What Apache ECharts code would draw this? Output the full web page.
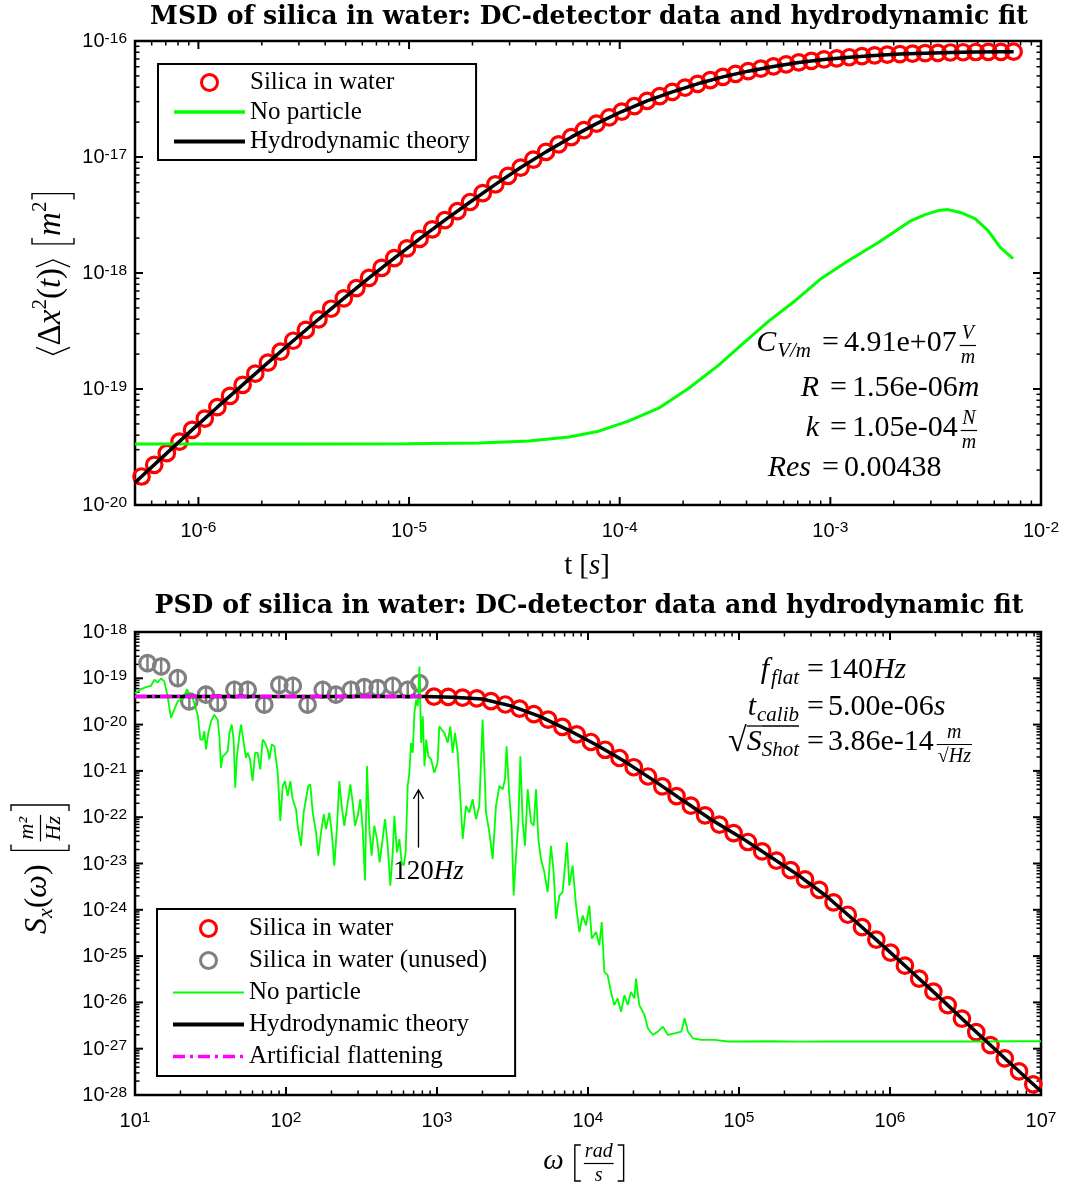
<!DOCTYPE html>
<html>
<head>
<meta charset="utf-8">
<title>MSD and PSD of silica in water</title>
<script src="https://cdn.jsdelivr.net/npm/echarts@6/dist/echarts.min.js"></script>
<style>
  html, body { margin: 0; padding: 0; background: #ffffff; }
  #chart { width: 1067px; height: 1184px; }
</style>
</head>
<body>
<div id="chart"></div>
<script>
// ---------------- MSD panel: time lags [s] and mean squared displacement [m^2]
const msdTime = [5.37e-7, 6.17e-7, 7.08e-7, 8.13e-7, 9.33e-7, 1.072e-6, 1.230e-6, 1.413e-6, 1.622e-6, 1.862e-6,
  2.138e-6, 2.455e-6, 2.818e-6, 3.236e-6, 3.715e-6, 4.266e-6, 4.898e-6, 5.623e-6, 6.457e-6, 7.413e-6,
  8.511e-6, 9.772e-6, 1.122e-5, 1.288e-5, 1.479e-5, 1.698e-5, 1.950e-5, 2.239e-5, 2.570e-5, 2.951e-5,
  3.388e-5, 3.890e-5, 4.467e-5, 5.129e-5, 5.888e-5, 6.761e-5, 7.762e-5, 8.913e-5, 1.023e-4, 1.175e-4,
  1.349e-4, 1.549e-4, 1.778e-4, 2.042e-4, 2.344e-4, 2.692e-4, 3.090e-4, 3.548e-4, 4.074e-4, 4.677e-4,
  5.370e-4, 6.166e-4, 7.079e-4, 8.128e-4, 9.333e-4, 1.072e-3, 1.230e-3, 1.413e-3, 1.622e-3, 1.862e-3,
  2.138e-3, 2.455e-3, 2.818e-3, 3.236e-3, 3.715e-3, 4.266e-3, 4.898e-3, 5.623e-3, 6.457e-3, 7.413e-3];
const msdSilica = [1.76e-20, 2.22e-20, 2.80e-20, 3.52e-20, 4.44e-20, 5.56e-20, 6.97e-20, 8.71e-20, 1.086e-19, 1.355e-19,
  1.687e-19, 2.099e-19, 2.606e-19, 3.228e-19, 3.990e-19, 4.920e-19, 6.053e-19, 7.413e-19, 9.078e-19, 1.107e-18,
  1.343e-18, 1.629e-18, 1.968e-18, 2.377e-18, 2.858e-18, 3.420e-18, 4.093e-18, 4.887e-18, 5.808e-18, 6.871e-18,
  8.110e-18, 9.506e-18, 1.107e-17, 1.285e-17, 1.483e-17, 1.702e-17, 1.941e-17, 2.198e-17, 2.466e-17, 2.748e-17,
  3.041e-17, 3.342e-17, 3.648e-17, 3.963e-17, 4.276e-17, 4.592e-17, 4.909e-17, 5.212e-17, 5.495e-17, 5.781e-17,
  6.039e-17, 6.295e-17, 6.531e-17, 6.745e-17, 6.934e-17, 7.096e-17, 7.244e-17, 7.396e-17, 7.516e-17, 7.621e-17,
  7.709e-17, 7.798e-17, 7.852e-17, 7.907e-17, 7.962e-17, 7.998e-17, 8.035e-17, 8.054e-17, 8.072e-17, 8.091e-17];
const fitTime = [5.0e-7, 5.37e-7, 7.08e-7, 9.33e-7, 1.230e-6, 1.622e-6, 2.138e-6, 2.818e-6, 3.715e-6, 4.898e-6,
  6.457e-6, 8.511e-6, 1.122e-5, 1.479e-5, 1.950e-5, 2.570e-5, 3.388e-5, 4.467e-5, 5.888e-5, 7.762e-5,
  1.023e-4, 1.349e-4, 1.778e-4, 2.344e-4, 3.090e-4, 4.074e-4, 5.370e-4, 7.079e-4, 9.333e-4, 1.230e-3,
  1.622e-3, 2.138e-3, 2.818e-3, 3.715e-3, 4.898e-3, 6.457e-3, 7.413e-3];
const fitMsd = [1.56e-20, 1.76e-20, 2.80e-20, 4.44e-20, 6.97e-20, 1.086e-19, 1.687e-19, 2.606e-19, 3.990e-19, 6.053e-19,
  9.078e-19, 1.343e-18, 1.968e-18, 2.858e-18, 4.093e-18, 5.808e-18, 8.110e-18, 1.107e-17, 1.483e-17, 1.941e-17,
  2.466e-17, 3.041e-17, 3.648e-17, 4.276e-17, 4.909e-17, 5.495e-17, 6.039e-17, 6.531e-17, 6.934e-17, 7.244e-17,
  7.516e-17, 7.709e-17, 7.852e-17, 7.962e-17, 8.035e-17, 8.072e-17, 8.091e-17];
const noParticleTime = [5.0e-7, 3.01e-6, 9.79e-6, 2.15e-5, 3.71e-5, 5.73e-5, 7.95e-5, 1.10e-4, 1.53e-4, 2.12e-4,
  2.94e-4, 3.87e-4, 5.08e-4, 6.83e-4, 9.06e-4, 1.18e-3, 1.69e-3, 2.42e-3, 2.82e-3, 3.25e-3,
  3.62e-3, 4.18e-3, 4.86e-3, 5.61e-3, 6.40e-3, 7.37e-3];
const noParticleMsd = [3.35e-20, 3.35e-20, 3.37e-20, 3.42e-20, 3.56e-20, 3.85e-20, 4.33e-20, 5.28e-20, 6.83e-20, 1.01e-19,
  1.60e-19, 2.48e-19, 3.83e-19, 5.80e-19, 8.97e-19, 1.23e-18, 1.83e-18, 2.83e-18, 3.19e-18, 3.45e-18,
  3.52e-18, 3.31e-18, 2.94e-18, 2.32e-18, 1.66e-18, 1.33e-18];

// ---------------- PSD panel: angular frequency [rad/s] and PSD [m^2/Hz]
const psdOmega = [955, 1187, 1476, 1834, 2280, 2835, 3524, 4381, 5445, 6769,
  8414, 10459, 13002, 16162, 20091, 24973, 31046, 38594, 47973, 59634,
  74131, 92148, 1.146e5, 1.424e5, 1.770e5, 2.200e5, 2.735e5, 3.400e5, 4.227e5, 5.254e5,
  6.531e5, 8.120e5, 1.009e6, 1.255e6, 1.560e6, 1.939e6, 2.410e6, 2.996e6, 3.724e6, 4.629e6,
  5.754e6, 7.153e6, 8.892e6];
const psdSilica = [4.018e-20, 3.954e-20, 3.819e-20, 3.673e-20, 3.214e-20, 2.716e-20, 2.208e-20, 1.683e-20, 1.282e-20, 8.89e-21,
  6.15e-21, 4.21e-21, 2.86e-21, 1.90e-21, 1.20e-21, 7.57e-22, 4.65e-22, 2.86e-22, 1.77e-22, 1.09e-22,
  6.93e-23, 4.55e-23, 2.91e-23, 1.83e-23, 1.15e-23, 7.19e-24, 4.52e-24, 2.69e-24, 1.45e-24, 7.82e-25,
  4.21e-25, 2.26e-25, 1.19e-25, 6.22e-26, 3.27e-26, 1.71e-26, 8.75e-27, 4.48e-27, 2.29e-27, 1.19e-27,
  6.21e-28, 3.25e-28, 1.70e-28];
const unusedOmega = [12.1, 14.9, 19.2, 22.9, 29.5, 35.3, 45.5, 55.8, 71.8, 90.3,
  111, 139, 175, 214, 269, 330, 405, 509, 640, 764];
const unusedPsd = [2.12e-19, 1.80e-19, 1.01e-19, 3.17e-20, 4.42e-20, 2.93e-20, 5.66e-20, 5.66e-20, 2.69e-20, 7.24e-20,
  6.90e-20, 2.69e-20, 5.66e-20, 4.42e-20, 5.66e-20, 6.47e-20, 6.15e-20, 6.90e-20, 5.66e-20, 7.88e-20];
const psdFitOmega = [10, 100, 500, 832, 1288, 1995, 3090, 4786, 7413, 11480,
  17780, 27540, 42660, 66070, 1.023e5, 1.585e5, 2.455e5, 3.802e5, 5.888e5, 9.120e5,
  1.413e6, 2.188e6, 3.388e6, 5.248e6, 8.128e6, 1.0e7];
const psdFitValue = [4.07e-20, 4.07e-20, 4.06e-20, 4.055e-20, 3.917e-20, 3.565e-20, 2.541e-20, 1.510e-20, 7.621e-21, 3.573e-21,
  1.549e-21, 6.081e-22, 2.286e-22, 8.730e-23, 3.707e-23, 1.452e-23, 5.689e-24, 1.963e-24, 5.662e-25, 1.600e-25,
  4.375e-26, 1.178e-26, 3.062e-27, 8.166e-28, 2.223e-28, 1.202e-28];
const flattenOmega = [10, 845];
const flattenValue = [4.07e-20, 4.07e-20];
const noParticlePsd = [
  [10, 4.70e-20], [10.96, 5.85e-20], [11.83, 6.46e-20], [12.76, 6.90e-20], [13.43, 9.29e-20], [14.13, 8.13e-20],
  [14.86, 9.91e-20], [15.63, 8.55e-20], [16.44, 4.06e-20], [17.30, 1.39e-20], [18.20, 2.10e-20], [19.17, 3.18e-20],
  [20.17, 3.45e-20], [21.22, 4.06e-20], [22.09, 5.85e-20], [22.9, 4.42e-20], [24.1, 3.74e-20], [25.4, 2.10e-20],
  [26.0, 1.64e-20], [27.1, 4.75e-21], [28.1, 4.75e-21], [28.8, 7.19e-21], [29.5, 2.90e-21], [30.6, 6.62e-21],
  [31.9, 1.18e-20], [33.5, 1.64e-20], [35.3, 1.28e-20], [36.2, 5.61e-21], [37.1, 1.17e-21], [38.1, 2.08e-21],
  [39.4, 2.26e-21], [41.1, 2.67e-21], [42.2, 6.62e-21], [43.7, 1.00e-20], [45.0, 4.75e-21], [46.1, 4.35e-22],
  [47.3, 2.08e-21], [49.1, 5.61e-21], [50.4, 1.00e-20], [52.5, 4.04e-21], [54.3, 1.92e-21], [55.7, 2.46e-21],
  [57.8, 1.77e-21], [60.1, 6.04e-22], [62.4, 2.46e-21], [64.9, 2.46e-21], [67.6, 1.08e-21], [70.0, 4.75e-21],
  [72.6, 4.04e-21], [75.6, 2.90e-21], [77.6, 1.77e-21], [80.4, 3.72e-21], [83.8, 3.42e-21], [88.1, 9.14e-22],
  [91.7, 8.34e-23], [95.1, 4.72e-22], [98.5, 6.04e-22], [102.6, 2.88e-22], [106.9, 6.04e-22], [110.7, 2.44e-22],
  [116.5, 1.49e-22], [119.5, 6.52e-23], [125.7, 2.42e-23], [130.9, 1.26e-22], [135.6, 2.44e-22], [140.5, 4.72e-22],
  [144.9, 5.13e-22], [150.3, 1.26e-22], [158.1, 4.68e-23], [163.7, 1.47e-23], [170.6, 4.68e-23], [177.8, 1.16e-22],
  [184.1, 5.52e-23], [193.6, 1.26e-22], [200.9, 4.68e-23], [209.0, 8.97e-24], [217.8, 6.52e-23], [225.5, 6.04e-22],
  [233.8, 1.75e-22], [243.4, 6.52e-23], [256.2, 2.07e-22], [266.8, 5.13e-22], [276.6, 2.07e-22], [286.6, 6.52e-23],
  [298.5, 1.07e-22], [310.7, 2.44e-22], [322.0, 5.52e-23], [333.5, 4.28e-24], [343.8, 1.27e-21], [356.4, 5.52e-23],
  [369.1, 1.47e-23], [384.6, 6.52e-23], [400.8, 3.37e-23], [417.3, 1.06e-23], [436.5, 3.37e-23], [452.6, 9.06e-23],
  [471.4, 2.42e-23], [490.8, 3.33e-24], [509.1, 1.74e-23], [522.2, 1.07e-22], [543.3, 1.74e-23], [563.5, 3.37e-23],
  [583.8, 1.06e-23], [601.6, 8.97e-24], [620.1, 1.74e-23], [639.5, 4.72e-22], [656.1, 9.14e-22], [673.2, 4.04e-21],
  [690.6, 2.46e-21], [708.5, 1.78e-20], [726.8, 3.45e-20], [745.7, 2.48e-20], [765.1, 1.80e-19], [784.9, 4.04e-21],
  [805.2, 1.51e-20], [826.1, 1.27e-21], [847.5, 4.75e-21], [876.4, 2.08e-21], [913.6, 1.77e-21], [960.1, 9.14e-22],
  [1009, 1.50e-21], [1036, 9.2e-21], [1073, 7.8e-21], [1119, 6.62e-21], [1177, 4.04e-21], [1225, 9.2e-21],
  [1270, 2.46e-21], [1316, 6.62e-21], [1371, 2.46e-21], [1429, 2.44e-22], [1480, 3.37e-23], [1556, 1.75e-22],
  [1637, 1.26e-22], [1722, 2.44e-22], [1812, 9.06e-23], [1906, 1.75e-22], [2005, 1.28e-20], [2112, 1.26e-22],
  [2221, 4.68e-23], [2337, 1.25e-23], [2458, 1.75e-22], [2587, 4.72e-22], [2723, 4.0e-22], [2818, 6.56e-22],
  [2891, 3.42e-21], [3013, 2.88e-22], [3119, 6.52e-23], [3219, 2.03e-24], [3337, 1.47e-23], [3456, 7.67e-23],
  [3565, 2.08e-21], [3694, 7.67e-23], [3827, 2.42e-23], [3985, 4.0e-22], [4196, 7.67e-23], [4369, 6.52e-23],
  [4526, 4.0e-22], [4689, 3.37e-23], [4883, 1.25e-23], [5137, 6.46e-24], [5404, 2.40e-24], [5685, 2.42e-23],
  [5926, 6.46e-24], [6141, 6.40e-25], [6460, 2.03e-24], [6796, 2.40e-24], [7261, 2.85e-23], [7521, 3.33e-24],
  [7912, 8.97e-24], [8333, 1.24e-24], [8770, 3.31e-25], [9226, 7.55e-25], [9706, 4.60e-25], [10210, 1.24e-24],
  [10590, 2.38e-25], [11300, 3.31e-25], [11890, 1.71e-25], [12330, 5.43e-25], [12830, 4.56e-26], [13490, 3.87e-26],
  [14190, 1.69e-26], [14930, 8.77e-27], [15710, 1.22e-26], [16560, 6.30e-27], [17420, 1.44e-26], [18320, 8.77e-27],
  [19280, 1.69e-26], [20280, 1.22e-26], [20800, 3.28e-26], [21880, 8.77e-27], [23660, 5.35e-27], [24890, 2.76e-27],
  [26920, 1.98e-27], [29040, 2.34e-27], [31330, 3.00e-27], [33810, 1.98e-27], [37500, 2.15e-27], [41500, 2.34e-27],
  [43650, 4.53e-27], [45920, 2.34e-27], [49550, 1.68e-27], [56360, 1.55e-27], [69020, 1.55e-27], [84540, 1.43e-27],
  [103500, 1.43e-27], [1.6e5, 1.45e-27], [2.5e5, 1.42e-27], [4.0e5, 1.44e-27], [6.3e5, 1.43e-27], [1.0e6, 1.44e-27],
  [1.6e6, 1.43e-27], [2.5e6, 1.44e-27], [4.0e6, 1.43e-27], [6.3e6, 1.45e-27], [1.0e7, 1.45e-27]
];

// axis ranges (decade exponents of the major ticks)
const msdTimeRange = [5e-7, 1e-2], msdTimeDecades = [-6, -2];
const msdRange = [1e-20, 1e-16], msdDecades = [-20, -16];
const omegaRange = [1e1, 1e7], omegaDecades = [1, 7];
const psdRange = [1e-28, 1e-18], psdDecades = [-28, -18];

// 120 Hz mains line, expressed as angular frequency
const mainsOmega = 2 * Math.PI * 120;

// ---------------- helpers
const SERIF = "'Liberation Serif', 'Times New Roman', serif";
const TITLE_SERIF = "'DejaVu Serif', serif";
const SANS = "'Liberation Sans', Arial, sans-serif";
const zip = (a, b) => a.map((v, i) => [v, b[i]]);

function decades(lo, hi) { const out = []; for (let e = lo; e <= hi; e++) out.push(Number('1e' + e)); return out; }
function subDecades(lo, hi, range) {
  const out = [];
  for (let e = lo; e <= hi; e++) for (let k = 2; k <= 9; k++) {
    const v = Number(k + 'e' + e);
    if (v > range[0] && v < range[1]) out.push(v);
  }
  return out;
}
function powerLabel(v) { return '{b|10}{e|' + Math.round(Math.log10(v)) + '}'; }
const labelRich = {
  b: { fontFamily: SANS, fontSize: 20, lineHeight: 21, verticalAlign: 'bottom', color: '#000' },
  e: { fontFamily: SANS, fontSize: 15.5, lineHeight: 15, verticalAlign: 'top', padding: [0, 0, 8, 0], color: '#000' }
};

// label-only log axes; the frame comes from the grid border, ticks are drawn afterwards
function labelAxis(dim, gridIndex, range, dec) {
  return {
    type: 'log', logBase: 10, gridIndex, position: dim === 'x' ? 'bottom' : 'left', min: range[0], max: range[1], silent: true,
    axisLine: { show: false, onZero: false }, axisTick: { show: false },
    splitLine: { show: false }, minorTick: { show: false }, minorSplitLine: { show: false },
    axisLabel: { show: true, customValues: decades(dec[0], dec[1]), formatter: powerLabel, rich: labelRich,
      margin: dim === 'x' ? 15 : 8, color: '#000' }
  };
}

// ---------------- text layout for the formula labels
const measureCtx = document.createElement('canvas').getContext('2d');
function fontOf(size, italic, bold, family) {
  return (italic ? 'italic ' : '') + (bold ? 'bold ' : '') + size + 'px ' + (family || SERIF);
}
function textWidth(str, f) { measureCtx.font = f; return measureCtx.measureText(str).width; }
function textEl(x, y, str, f, align) {
  return { type: 'text', x, y, silent: true,
    style: { text: str, font: f, fill: '#000', align: align || 'left', verticalAlign: 'middle', textAlign: align || 'left', textVerticalAlign: 'middle' } };
}
function segEl(x1, y1, x2, y2, w) {
  return { type: 'line', silent: true, shape: { x1, y1, x2, y2 }, style: { stroke: '#000', lineWidth: w || 1.2 } };
}
function polyEl(points, w) {
  return { type: 'polyline', silent: true, shape: { points }, style: { stroke: '#000', fill: null, lineWidth: w || 1.3 } };
}
function formula(pieces) {
  let x = 0, anchor = 0;
  const kids = [];
  pieces.forEach(p => {
    if (p.anchor) { anchor = x; return; }
    if (p.gap) { x += p.gap; return; }
    if (p.br) {
      const h = p.h, open = p.br === '[';
      const xe = open ? x + 3 : x + 8;
      const d = open ? 6 : -6;
      kids.push(polyEl([[xe + d, -h + 2], [xe, -h + 2], [xe, h + 2], [xe + d, h + 2]], 1.4));
      x += 11; return;
    }
    if (p.ang) {
      const h = p.h, open = p.ang === '<';
      kids.push(polyEl(open ? [[x + 8, -h + 2], [x + 1, 2], [x + 8, h + 2]] : [[x + 1, -h + 2], [x + 8, 2], [x + 1, h + 2]], 1.3));
      x += 10; return;
    }
    const f = fontOf(p.size, p.it);
    if (p.frac) {
      const w = Math.max(textWidth(p.frac[0], f), textWidth(p.frac[1], f)) + 4;
      const bar = 2.5;
      kids.push(textEl(x + w / 2, bar - p.size * 0.6, p.frac[0], f, 'center'));
      kids.push(segEl(x + 1, bar, x + w - 1, bar, 1.2));
      kids.push(textEl(x + w / 2, bar + p.size * 0.62, p.frac[1], f, 'center'));
      x += w + 1; return;
    }
    const w = textWidth(p.t, f);
    kids.push(textEl(x, p.dy || 0, p.t, f));
    if (p.over !== undefined) kids.push(segEl(x, p.over, x + w, p.over, 1.3));
    x += w + (p.kern || 0);
  });
  return { kids, width: x, anchor };
}
function centered(f, cx, cy, rotation) {
  return { type: 'group', x: cx, y: cy, rotation: rotation || 0, silent: true,
    children: [{ type: 'group', x: -f.width / 2, y: 0, children: f.kids }] };
}
function atEquals(f, eqX, cy) {
  return { type: 'group', x: eqX - f.anchor, y: cy, silent: true, children: f.kids };
}

// ---------------- chart
const chart = echarts.init(document.getElementById('chart'), null, { renderer: 'canvas', width: 1067, height: 1184 });

const gridBoxes = [
  { left: 135, top: 41, width: 906, height: 464 },
  { left: 135, top: 632, width: 906, height: 463 }
];
const legendText = { fontFamily: SERIF, fontSize: 25, color: '#000', lineHeight: 24 };
const lineLegend = (name, lineStyle) => ({ name, itemStyle: { color: 'rgba(0,0,0,0)', borderWidth: 0, opacity: 0 },
  lineStyle: Object.assign({ opacity: 1 }, lineStyle) });
const circleStyle = color => ({ color: 'rgba(255,255,255,0)', borderColor: color, borderWidth: 3.2, opacity: 1 });
const gridFrame = { show: true, borderColor: '#000', borderWidth: 2.5, backgroundColor: 'rgba(0,0,0,0)', containLabel: false, outerBoundsMode: 'none' };
const flattenDash = [12, 5, 3, 5];

const option = {
  animation: false,
  backgroundColor: '#ffffff',
  textStyle: { fontFamily: SERIF },
  grid: gridBoxes.map(b => Object.assign({}, b, gridFrame)),
  xAxis: [labelAxis('x', 0, msdTimeRange, msdTimeDecades), labelAxis('x', 1, omegaRange, omegaDecades)],
  yAxis: [labelAxis('y', 0, msdRange, msdDecades), labelAxis('y', 1, psdRange, psdDecades)],
  legend: [
    {
      left: 158, top: 64, orient: 'vertical', selectedMode: false, z: 20,
      data: [
        { name: 'Silica in water' },
        lineLegend('No particle', { color: '#00ff00', width: 3.5 }),
        lineLegend('Hydrodynamic theory', { color: '#000', width: 4 })
      ],
      itemWidth: 71, itemHeight: 16, itemGap: 4.5, padding: [6, 6, 6, 14],
      borderColor: '#000', borderWidth: 2, borderRadius: 0, backgroundColor: '#fff',
      itemStyle: { borderWidth: 3 }, textStyle: legendText
    },
    {
      left: 157, top: 909, orient: 'vertical', selectedMode: false, z: 20,
      data: [
        { name: 'Silica in water' },
        { name: 'Silica in water (unused)' },
        lineLegend('No particle', { color: '#00ff00', width: 2 }),
        lineLegend('Hydrodynamic theory', { color: '#000', width: 4 }),
        lineLegend('Artificial flattening', { color: '#ff00ff', width: 3.5, type: flattenDash })
      ],
      itemWidth: 71, itemHeight: 16, itemGap: 7, padding: [7, 28, 7, 14],
      borderColor: '#000', borderWidth: 2, borderRadius: 0, backgroundColor: '#fff',
      itemStyle: { borderWidth: 3 }, textStyle: legendText
    }
  ],
  series: [
    // MSD panel
    { name: 'Silica in water', type: 'scatter', xAxisIndex: 0, yAxisIndex: 0, data: zip(msdTime, msdSilica),
      symbol: 'circle', symbolSize: 15.5, silent: true, itemStyle: circleStyle('#ff0000') },
    { name: 'No particle', type: 'line', xAxisIndex: 0, yAxisIndex: 0, data: zip(noParticleTime, noParticleMsd),
      symbol: 'none', silent: true, lineStyle: { color: '#00ff00', width: 3 }, itemStyle: { color: '#00ff00' } },
    { name: 'Hydrodynamic theory', type: 'line', xAxisIndex: 0, yAxisIndex: 0, data: zip(fitTime, fitMsd),
      symbol: 'none', silent: true, lineStyle: { color: '#000', width: 3.5 }, itemStyle: { color: '#000' } },

    // PSD panel
    { name: 'Silica in water (unused)', type: 'scatter', xAxisIndex: 1, yAxisIndex: 1, data: zip(unusedOmega, unusedPsd),
      symbol: 'circle', symbolSize: 15.5, silent: true, itemStyle: circleStyle('#808080') },
    { type: 'custom', xAxisIndex: 1, yAxisIndex: 1, data: zip(unusedOmega, unusedPsd), silent: true,
      encode: { x: 0, y: 1 },
      renderItem: (params, api) => {
        const p = api.coord([api.value(0), api.value(1)]);
        return { type: 'line', shape: { x1: p[0], y1: p[1] - 9, x2: p[0], y2: p[1] + 9 }, style: { stroke: '#808080', lineWidth: 2.5 } };
      } },
    { name: 'Silica in water', type: 'scatter', xAxisIndex: 1, yAxisIndex: 1, data: zip(psdOmega, psdSilica),
      symbol: 'circle', symbolSize: 15.5, silent: true, itemStyle: circleStyle('#ff0000') },
    { name: 'No particle', type: 'line', xAxisIndex: 1, yAxisIndex: 1, data: noParticlePsd,
      symbol: 'none', silent: true, lineStyle: { color: '#00ff00', width: 1.8 }, itemStyle: { color: '#00ff00' } },
    { name: 'Hydrodynamic theory', type: 'line', xAxisIndex: 1, yAxisIndex: 1, data: zip(psdFitOmega, psdFitValue),
      symbol: 'none', silent: true, lineStyle: { color: '#000', width: 3.5 }, itemStyle: { color: '#000' } },
    { name: 'Artificial flattening', type: 'line', xAxisIndex: 1, yAxisIndex: 1, data: zip(flattenOmega, flattenValue),
      symbol: 'none', silent: true, lineStyle: { color: '#ff00ff', width: 3.5, type: flattenDash }, itemStyle: { color: '#ff00ff' } }
  ]
};
chart.setOption(option);

// ---------------- inward tick marks on all four sides, placed through the axis scales
function tickMarks(axisIndex, box, xRange, xDec, yRange, yDec) {
  const els = [];
  const bottom = box.top + box.height, right = box.left + box.width;
  const put = (values, major, isX) => values.forEach(v => {
    const len = major ? 8 : 4.5, w = major ? 2 : 1.5;
    const p = chart.convertToPixel(isX ? { xAxisIndex: axisIndex } : { yAxisIndex: axisIndex }, v);
    if (isX) {
      els.push(segEl(p, bottom, p, bottom - len, w), segEl(p, box.top, p, box.top + len, w));
    } else {
      els.push(segEl(box.left, p, box.left + len, p, w), segEl(right, p, right - len, p, w));
    }
  });
  put(decades(xDec[0], xDec[1]), true, true);
  put(subDecades(xDec[0] - 1, xDec[1], xRange), false, true);
  put(decades(yDec[0], yDec[1]), true, false);
  put(subDecades(yDec[0] - 1, yDec[1], yRange), false, false);
  return { type: 'group', z: 10, silent: true, children: els };
}

// ---------------- titles, axis names and fit annotations
const titleTop = 'MSD of silica in water: DC-detector data and hydrodynamic fit';
const titleBottom = 'PSD of silica in water: DC-detector data and hydrodynamic fit';
const titleSize = 24 * 878 / textWidth(titleTop, fontOf(24, false, true, TITLE_SERIF));
const titleFont = fontOf(titleSize.toFixed(2), false, true, TITLE_SERIF);
const M = 30;   // annotation font size
const S = 21;   // subscript size
const F = 20;   // fraction size

const elements = [
  tickMarks(0, gridBoxes[0], msdTimeRange, msdTimeDecades, msdRange, msdDecades),
  tickMarks(1, gridBoxes[1], omegaRange, omegaDecades, psdRange, psdDecades),

  textEl(589, 17, titleTop, titleFont, 'center'),
  textEl(589, 606, titleBottom, titleFont, 'center'),

  centered(formula([{ t: 't', size: 29 }, { gap: 7 }, { t: '[', size: 29 }, { t: 's', size: 29, it: true }, { t: ']', size: 29 }]), 587, 566),
  centered(formula([
    { ang: '<', h: 17 }, { t: 'Δ', size: 33 }, { t: 'x', size: 33, it: true }, { t: '2', size: 21, dy: -11 },
    { t: '(', size: 33 }, { t: 't', size: 33, it: true }, { t: ')', size: 33 }, { ang: '>', h: 17 },
    { gap: 11 }, { br: '[', h: 21 }, { t: 'm', size: 33, it: true }, { t: '2', size: 21, dy: -11 }, { br: ']', h: 21 }
  ]), 51, 273, Math.PI / 2),
  centered(formula([
    { t: 'ω', size: 29, it: true }, { gap: 8 }, { br: '[', h: 18 }, { frac: ['rad', 's'], size: F, it: true }, { br: ']', h: 18 }
  ]), 585, 1161),
  centered(formula([
    { t: 'S', size: 32, it: true }, { t: 'x', size: 22, it: true, dy: 8 }, { t: '(', size: 32 }, { t: 'ω', size: 32, it: true },
    { t: ')', size: 32 }, { gap: 11 }, { br: '[', h: 29 }, { frac: ['m²', 'Hz'], size: 22, it: true }, { br: ']', h: 29 }
  ]), 38, 868, Math.PI / 2),

  // MSD fit parameters
  atEquals(formula([{ t: 'C', size: M, it: true, kern: 1 }, { t: 'V/m', size: S, it: true, dy: 8 }, { gap: 11 }, { anchor: true },
    { t: '=', size: M }, { gap: 5 }, { t: '4.91e+07', size: M }, { gap: 2 }, { frac: ['V', 'm'], size: F, it: true }]), 822, 343),
  atEquals(formula([{ t: 'R', size: M, it: true }, { gap: 11 }, { anchor: true },
    { t: '=', size: M }, { gap: 5 }, { t: '1.56e-06', size: M }, { t: 'm', size: M, it: true }]), 830, 388),
  atEquals(formula([{ t: 'k', size: M, it: true }, { gap: 11 }, { anchor: true },
    { t: '=', size: M }, { gap: 5 }, { t: '1.05e-04', size: M }, { gap: 2 }, { frac: ['N', 'm'], size: F, it: true }]), 830, 428),
  atEquals(formula([{ t: 'Res', size: M, it: true }, { gap: 11 }, { anchor: true },
    { t: '=', size: M }, { gap: 5 }, { t: '0.00438', size: M }]), 822, 468),

  // PSD fit parameters
  atEquals(formula([{ t: 'f', size: M, it: true, kern: 2 }, { t: 'flat', size: S, it: true, dy: 8 }, { gap: 8 }, { anchor: true },
    { t: '=', size: M }, { gap: 4 }, { t: '140', size: M }, { t: 'Hz', size: M, it: true }]), 807, 670),
  atEquals(formula([{ t: 't', size: M, it: true, kern: 1 }, { t: 'calib', size: S, it: true, dy: 8 }, { gap: 8 }, { anchor: true },
    { t: '=', size: M }, { gap: 4 }, { t: '5.00e-06', size: M }, { t: 's', size: M, it: true }]), 807, 707),
  atEquals(formula([{ t: '√', size: 34 }, { t: 'S', size: M, it: true, over: -16 }, { t: 'Shot', size: S, it: true, dy: 8, over: -16 },
    { gap: 8 }, { anchor: true }, { t: '=', size: M }, { gap: 4 }, { t: '3.86e-14', size: M }, { gap: 2 },
    { frac: ['m', '√Hz'], size: F, it: true }]), 807, 742)
];

// 120 Hz marker below the mains spike
const tip = chart.convertToPixel({ xAxisIndex: 1, yAxisIndex: 1 }, [mainsOmega, 3.9e-22]);
const tail = chart.convertToPixel({ xAxisIndex: 1, yAxisIndex: 1 }, [mainsOmega, 2.2e-23]);
elements.push(segEl(tip[0], tip[1], tail[0], tail[1], 1.3));
elements.push(polyEl([[tip[0] - 5, tip[1] + 9], [tip[0], tip[1]], [tip[0] + 5, tip[1] + 9]], 1.3));
elements.push(centered(formula([{ t: '120', size: 27 }, { t: 'Hz', size: 27, it: true }]), tip[0] + 10, tail[1] + 24));

chart.setOption({ graphic: { elements } });
</script>
</body>
</html>
